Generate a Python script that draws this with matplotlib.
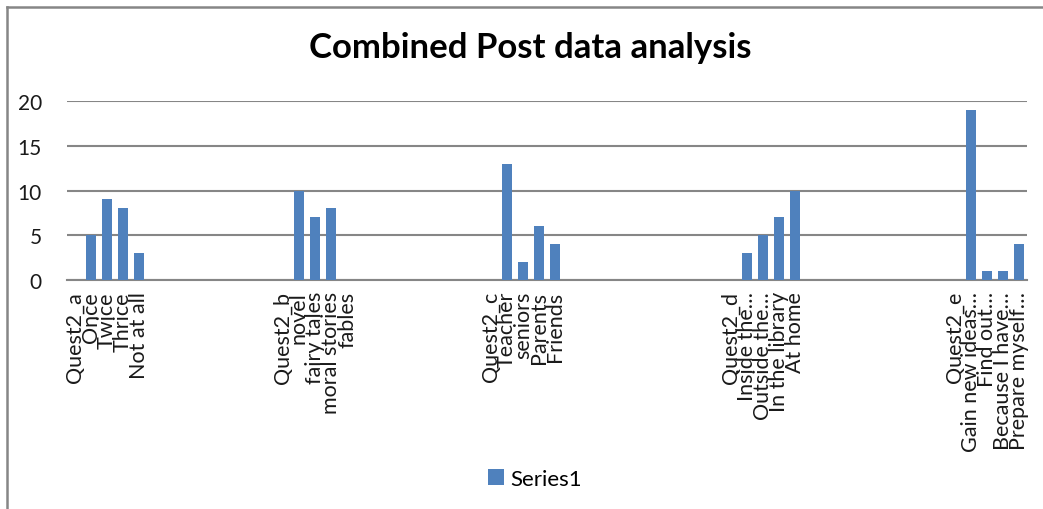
import numpy as np
import matplotlib
matplotlib.use("Agg")
import matplotlib.pyplot as plt
from matplotlib.patches import Patch
from matplotlib.lines import Line2D

plt.rcParams['font.family'] = ['Lato', 'DejaVu Sans']

# survey answers, one block per question (header row has no count)
quest_a_labels = ["Quest2_a", "Once", "Twice", "Thrice", "Not at all"]
quest_a_values = [np.nan, 5, 9, 8, 3]

quest_b_labels = ["Quest2_b", "novel", "fairy tales", "moral stories", "fables"]
quest_b_values = [np.nan, 10, 7, 8, 0]

quest_c_labels = ["Quest2_c", "Teacher", "seniors", "Parents", "Friends"]
quest_c_values = [np.nan, 13, 2, 6, 4]

quest_d_labels = ["Quest2_d", "Inside the\u2026", "Outside the\u2026", "In the library", "At home"]
quest_d_values = [np.nan, 3, 5, 7, 10]

quest_e_labels = ["Quest2_e", "Gain new ideas\u2026", "Find out\u2026", "Because I have\u2026", "Prepare myself\u2026"]
quest_e_values = [np.nan, 19, 1, 1, 4]

# empty rows in the sheet between the question blocks
blank_rows = [8, 8, 10, 9]

blocks = [(quest_a_labels, quest_a_values), (quest_b_labels, quest_b_values),
          (quest_c_labels, quest_c_values), (quest_d_labels, quest_d_values),
          (quest_e_labels, quest_e_values)]

labels = []
values = []
for k, (lab, val) in enumerate(blocks):
    labels += lab
    values += val
    if k < len(blank_rows):
        labels += [""] * blank_rows[k]
        values += [np.nan] * blank_rows[k]
values = np.array(values, dtype=float)
x = np.arange(len(labels))

fig = plt.figure(figsize=(10.43, 5.10), dpi=100)
ax = fig.add_axes([67 / 1043, 1 - 281 / 510, 960 / 1043, 179 / 510])

ax.bar(x, np.nan_to_num(values), width=0.6, color="#4F81BD", zorder=3)

ax.set_xlim(-0.5, len(labels) - 0.5)
ax.set_ylim(0, 20)
ax.set_yticks([0, 5, 10, 15, 20])
ax.yaxis.grid(True, color="#868686", linewidth=1.5, zorder=0)
ax.set_axisbelow(True)
for s in ["top", "right", "left"]:
    ax.spines[s].set_visible(False)
ax.spines["bottom"].set_color("#868686")
ax.spines["bottom"].set_linewidth(1.5)

ax.set_xticks(x)
ax.set_xticklabels(labels, rotation=90, ha="center", va="top", fontsize=15.5, color="#1a1a1a")
ax.tick_params(axis="x", length=0, pad=8)
ax.tick_params(axis="y", length=0, pad=18, labelsize=15, labelcolor="#1a1a1a")

fig.text(530 / 1043, 1 - 48 / 510, "Combined Post data analysis", ha="center", va="center",
         fontsize=25, fontweight="bold", color="black")

fig.legend(handles=[Patch(facecolor="#4F81BD", label="Series1")], loc="center",
           bbox_to_anchor=(535 / 1043, 1 - 480 / 510), frameon=False, fontsize=16,
           handlelength=0.7, handleheight=0.7, handletextpad=0.3)

# chart area border
fig.add_artist(Line2D([7 / 1043, 7 / 1043], [0, 1 - 8 / 510], transform=fig.transFigure,
                      color="#868686", linewidth=1.8))
fig.add_artist(Line2D([7 / 1043, 1], [1 - 8 / 510, 1 - 8 / 510], transform=fig.transFigure,
                      color="#868686", linewidth=1.8))

fig.savefig("out.png", dpi=100)
